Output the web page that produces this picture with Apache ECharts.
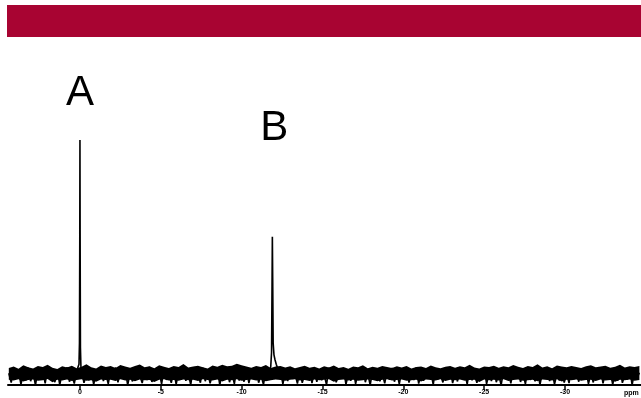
<!DOCTYPE html>
<html>
<head>
<meta charset="utf-8">
<script src="https://cdn.jsdelivr.net/npm/echarts@6/dist/echarts.min.js"></script>
<style>
  html, body { margin: 0; padding: 0; background: #fff; }
  #spectrum { width: 641px; height: 398px; }
</style>
</head>
<body>
<div id="spectrum"></div>
<script>
// chemical shift axis (ppm), tick labels
var tickValues = [0, -5, -10, -15, -20, -25, -30];
var tickLabels = ['0', '-5', '-10', '-15', '-20', '-25', '-30'];

// baseline noise trace, sampled every 0.15 ppm from +4.4 ppm
var noiseStart = 4.4;
var noiseStep = 0.15;
var noise = [
  1.2,-2.8,3.1,-0.6,2.4,-3.5,0.8,-1.9,3.6,-2.2,1.5,-3.9,2.7,-0.4,1.9,-3.1,3.3,-1.2,0.5,-2.6,
  2.9,-3.7,1.1,-0.9,3.8,-2.4,0.3,-3.2,2.2,-1.5,3.4,-2.9,0.7,-1.8,2.6,-3.6,1.4,-0.2,3.0,-2.1,
  0.9,-3.3,2.5,-1.1,3.7,-2.7,1.6,-0.5,2.8,-3.8,1.0,-2.3,3.5,-1.4,0.2,-3.0,2.3,-1.7,3.9,-2.5,
  1.3,-0.8,2.0,-3.4,3.2,-1.6,0.6,-2.9,2.6,-3.5,1.8,-0.3,3.3,-2.0,1.1,-3.7,2.9,-1.0,0.4,-2.8,
  3.6,-2.2,1.7,-3.1,0.8,-1.3,3.0,-3.9,2.1,-0.7,2.7,-2.6,1.2,-3.3,3.4,-1.9,0.5,-2.4,2.8,-3.0,
  1.9,-1.1,3.5,-2.8,0.3,-3.6,2.4,-1.4,3.1,-2.3,1.4,-0.6,2.9,-3.4,1.6,-2.1,3.8,-1.2,0.9,-3.2,
  2.3,-2.9,1.0,-0.4,3.3,-3.0,1.8,-2.5,2.6,-1.8,0.7,-3.7,3.6,-1.5,2.0,-2.7,1.3,-0.9,3.2,-3.5,
  0.6,-2.0,2.7,-3.3,1.5,-1.0,3.9,-2.6,1.1,-3.8,2.4,-0.8,3.0,-2.2,0.8,-3.1,2.5,-1.6,3.4,-2.4,
  1.7,-3.4,2.1,-0.5,3.1,-2.8,0.9,-1.7,3.7,-3.2,1.3,-2.0,2.8,-0.7,1.9,-3.6,3.2,-1.3,0.4,-2.7,
  2.6,-1.5,3.4,-3.0,1.2,-2.3,2.9,-0.6,1.6,-3.5,3.5,-1.8,0.7,-2.9,2.2,-1.1,3.6,-3.3,1.0,-2.1,
  3.1,-2.6,0.8,-3.9,2.5,-1.2,1.8,-3.1,3.3,-0.9,2.0,-2.5,1.4,-3.4,3.0,-1.6,0.5,-2.2,2.7,-3.7,
  1.5,-0.3,3.6,-2.1,2.2,-3.5,0.9,-1.9,2.8,-2.8,1.1,-3.0,3.9,-1.4,1.7,-2.4,3.2,-0.8,2.4,-3.3,
  0.8,-2.7,2.9,-1.3,3.5,-3.1,1.3,-0.6,2.3,-3.6,1.6,-2.0,3.1,-2.9,0.6,-1.5,3.4,-3.8,2.0,-1.0,
  1.4
];

// upper and lower edges of the dense noise band, every 0.3 ppm from +4.4 ppm
var bandStep = 0.3;
var bandUpper = [
  3.4,4.0,3.1,4.6,3.7,3.2,4.3,3.8,4.8,3.5,3.0,4.1,3.6,4.4,3.3,3.9,5.0,3.7,3.2,4.5,
  3.8,4.2,3.4,4.7,4.0,3.5,4.2,4.9,3.7,4.1,3.3,4.6,3.9,3.4,4.3,3.8,5.1,3.6,4.0,4.4,
  3.7,3.2,4.5,3.9,4.8,4.1,4.4,5.2,4.6,4.0,3.5,4.2,3.8,4.7,3.4,4.0,4.3,3.6,4.1,3.3,
  3.8,4.4,3.5,3.9,3.2,4.1,3.6,4.5,3.4,3.8,3.1,4.0,3.7,4.6,3.3,3.9,3.5,4.2,3.8,3.4,
  4.1,3.6,4.3,3.2,3.8,4.0,3.4,4.5,3.7,3.3,3.9,4.2,3.5,4.1,3.7,4.8,3.6,3.2,4.0,3.8,
  4.4,3.5,4.1,3.7,4.7,3.9,3.4,4.2,3.8,5.0,3.6,4.1,3.3,4.5,4.0,3.7,4.3,3.8,3.4,4.1,
  4.6,3.7,4.0,4.4,3.5,3.9,4.8,3.6,4.1,3.8,4.2
];
var bandLower = [
  -1.6,-1.9,-1.4,-2.3,-1.7,-1.5,-2.0,-1.8,-1.3,-2.6,-1.6,-1.9,-1.5,-2.1,-1.7,-1.4,-2.0,-1.8,-2.4,-1.5,
  -1.7,-1.6,-2.1,-1.4,-1.9,-1.6,-2.2,-1.5,-1.8,-1.7,-2.5,-1.6,-1.4,-1.9,-1.7,-2.0,-1.5,-1.8,-1.6,-2.1,
  -1.4,-1.7,-1.9,-1.5,-2.3,-1.6,-1.8,-1.4,-2.0,-1.7,-1.5,-1.9,-1.6,-2.2,-1.8,-1.5,-1.7,-2.0,-1.6,-1.4,
  -1.9,-1.7,-2.1,-1.5,-1.8,-1.6,-1.4,-2.4,-1.7,-1.5,-1.9,-1.6,-2.0,-1.8,-1.5,-1.7,-2.2,-1.6,-1.4,-1.9,
  -1.7,-1.5,-2.0,-1.8,-1.6,-2.3,-1.5,-1.7,-1.9,-1.4,-2.1,-1.6,-1.8,-1.5,-2.0,-1.7,-1.6,-2.5,-1.5,-1.8,
  -1.6,-1.9,-1.4,-2.1,-1.7,-1.5,-2.0,-1.8,-1.6,-2.2,-1.5,-1.7,-1.9,-1.4,-2.3,-1.6,-1.8,-1.5,-2.0,-1.7,
  -1.6,-2.1,-1.5,-1.9,-1.7,-2.4,-1.6,-1.8,-1.5,-2.0,-1.7
];

// peak A (0 ppm) and peak B (-11.9 ppm)
var peakAShift = [0.12, 0.06, 0.03, 0.01, 0, -0.01, -0.03, -0.06, -0.12];
var peakAValue = [2.5, 5, 14, 60, 100, 62, 12, 4, 1.5];
var peakBShift = [-11.72, -11.8, -11.85, -11.88, -11.9, -11.92, -11.95, -12.0, -12.06, -12.14, -12.24];
var peakBValue = [2, 4, 10, 38, 59, 42, 14, 9, 7, 5, 3];

var points = [];
function inPeak(x) {
  return (x <= peakAShift[0] && x >= peakAShift[peakAShift.length - 1]) ||
         (x <= peakBShift[0] && x >= peakBShift[peakBShift.length - 1]);
}
noise.forEach(function (v, i) {
  var x = +(noiseStart - i * noiseStep).toFixed(3);
  if (!inPeak(x)) points.push([x, v]);
});
peakAShift.forEach(function (x, i) { points.push([x, peakAValue[i]]); });
peakBShift.forEach(function (x, i) { points.push([x, peakBValue[i]]); });
points.sort(function (a, b) { return b[0] - a[0]; });

var upperPts = bandUpper.map(function (v, i) { return [+(noiseStart - i * bandStep).toFixed(3), v]; });
var lowerPts = bandLower.map(function (v, i) { return [+(noiseStart - i * bandStep).toFixed(3), v]; });

function bandSeries(data) {
  return {
    type: 'line',
    data: data,
    symbol: 'none',
    silent: true,
    lineStyle: { width: 0 },
    areaStyle: { color: '#000', opacity: 1, origin: 0 }
  };
}

var chart = echarts.init(document.getElementById('spectrum'));
chart.setOption({
  animation: false,
  backgroundColor: '#fff',
  grid: { left: 8, right: 0, top: 40, bottom: 13 },
  graphic: [
    { type: 'rect', left: 7, top: 5, shape: { width: 634, height: 32 }, style: { fill: '#a80432' } },
    { type: 'text', left: 624, top: 390, style: { text: 'ppm', font: 'bold 7px "Liberation Sans"', fill: '#000' } }
  ],
  xAxis: {
    type: 'value',
    inverse: true,
    min: -34.7,
    max: 4.45,
    axisLine: { show: true, onZero: false, lineStyle: { color: '#000', width: 2 } },
    splitLine: { show: false },
    axisTick: { show: true, length: 5, customValues: tickValues, lineStyle: { color: '#000', width: 1.5 } },
    axisLabel: {
      customValues: tickValues,
      margin: 4,
      formatter: function (v) { return tickLabels[tickValues.indexOf(v)] || ''; },
      fontFamily: 'Liberation Sans',
      fontSize: 7,
      fontWeight: 'bold',
      color: '#000'
    }
  },
  yAxis: {
    type: 'value',
    min: -3.8,
    max: 142.4,
    show: false
  },
  series: [
    bandSeries(upperPts),
    bandSeries(lowerPts),
    {
      type: 'line',
      data: points,
      symbol: 'none',
      clip: false,
      lineStyle: { color: '#000', width: 1.6 },
      markPoint: {
        symbol: 'circle',
        symbolSize: 0,
        label: {
          show: true,
          position: 'inside',
          fontFamily: 'Liberation Sans',
          fontSize: 42,
          color: '#000'
        },
        data: [
          { coord: [0, 100], label: { formatter: 'A', offset: [0, -47] } },
          { coord: [-11.9, 59], label: { formatter: 'B', offset: [2, -108] } }
        ]
      }
    }
  ]
});
</script>
</body>
</html>
